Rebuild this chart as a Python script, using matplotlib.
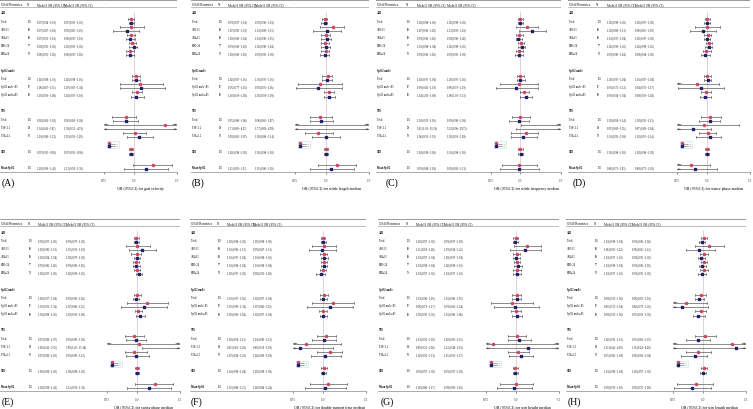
import matplotlib
matplotlib.use("Agg")
import matplotlib.pyplot as plt
from matplotlib.lines import Line2D
from matplotlib.ticker import NullLocator

plt.rcParams['font.family'] = ['Liberation Serif', 'DejaVu Serif']

# ---------------- data ----------------
row_labels = ["Total", "AHI<15", "AHI≥15", "BMI<24", "BMI≥24",
              "Total", "SpO2 nadir<85", "SpO2 nadir≥85",
              "Total", "T90<1.2", "T90≥1.2",
              "ODI", "Mean SpO2"]
group_labels = ["AHI", "SpO2 nadir", "T90"]
n_values = [136, 68, 68, 77, 59, 136, 67, 69, 136, 98, 38, 136, 136]

xlabels = ["OR (95%CI) for gait velocity",
           "OR (95%CI) for stride length median",
           "OR (95%CI) for stride frequency median",
           "OR (95%CI) for stance phase median",
           "OR (95%CI) for swing phase median",
           "OR (95%CI) for double support time median",
           "OR (95%CI) for step height median",
           "OR (95%CI) for step length median"]
panel_letters = ["(A)", "(B)", "(C)", "(D)", "(E)", "(F)", "(G)", "(H)"]
x_ticks = [0.75, 1.0, 1.5]
x_tick_labels = ["0.75", "1.0", "1.5"]

# (OR, lower, upper) per row
A_model1 = [(0.97,0.94,1.00),(0.97,0.87,1.10),(0.97,0.93,1.01),(0.98,0.95,1.02),(0.96,0.92,1.00),
            (1.02,0.98,1.06),(1.06,0.87,1.31),(1.03,0.98,1.08),
            (0.92,0.81,1.02),(1.34,0.49,3.67),(1.01,0.90,1.12),(0.97,0.95,0.99),(1.20,0.99,1.43)]
A_model2 = [(0.97,0.95,1.00),(0.93,0.82,1.05),(0.96,0.92,1.01),(1.00,0.95,1.03),(0.96,0.92,1.00),
            (1.02,0.98,1.06),(1.07,0.87,1.34),(1.02,0.97,1.10),
            (0.92,0.82,1.04),(1.58,0.52,4.79),(1.05,0.93,1.20),(0.97,0.95,0.99),(1.12,0.91,1.38)]
B_model1 = [(0.99,0.97,1.01),(1.07,0.95,1.19),(1.00,0.96,1.04),(0.99,0.96,1.03),(1.00,0.96,1.03),
            (1.02,0.97,1.06),(0.95,0.77,1.16),(1.03,0.98,1.08),
            (0.95,0.86,1.06),(1.73,0.69,4.33),(0.93,0.82,1.07),(1.00,0.98,1.02),(1.11,0.93,1.33)]
B_model2 = [(0.99,0.96,1.01),(1.01,0.89,1.15),(1.01,0.96,1.05),(1.00,0.96,1.04),(0.99,0.95,1.03),
            (1.01,0.97,1.06),(0.93,0.76,1.16),(1.03,0.98,1.09),
            (0.96,0.86,1.07),(1.77,0.68,4.59),(1.00,0.88,1.14),(1.00,0.98,1.02),(1.05,0.86,1.30)]
C_model1 = [(1.00,0.98,1.03),(1.07,0.96,1.20),(0.99,0.96,1.03),(1.01,0.98,1.04),(0.99,0.96,1.03),
            (1.00,0.97,1.04),(0.99,0.82,1.19),(1.04,1.00,1.09),
            (1.00,0.92,1.10),(5.61,1.01,31.18),(1.06,0.91,1.19),(1.00,0.98,1.03),(0.99,0.84,1.18)]
C_model2 = [(1.00,0.98,1.03),(1.13,0.99,1.29),(0.98,0.96,1.02),(1.02,0.98,1.05),(0.99,0.95,1.03),
            (1.00,0.97,1.05),(0.96,0.79,1.19),(1.06,1.00,1.13),
            (0.99,0.90,1.09),(5.33,0.96,29.73),(1.03,0.91,1.18),(1.01,0.98,1.03),(0.99,0.82,1.21)]
D_model1 = [(1.00,0.98,1.03),(1.00,0.89,1.13),(1.01,0.97,1.04),(1.02,0.99,1.05),(0.99,0.96,1.04),
            (1.00,0.97,1.04),(0.91,0.72,1.12),(0.99,0.94,1.04),
            (1.03,0.94,1.14),(0.97,0.69,1.35),(1.01,0.92,1.09),(1.00,0.98,1.02),(0.86,0.73,1.03)]
D_model2 = [(1.00,0.97,1.03),(0.96,0.85,1.09),(1.00,0.97,1.03),(1.02,0.98,1.05),(0.98,0.94,1.03),
            (1.01,0.97,1.04),(0.94,0.76,1.17),(0.98,0.93,1.04),
            (1.03,0.92,1.13),(0.87,0.68,1.04),(1.03,0.90,1.14),(1.00,0.98,1.02),(0.89,0.72,1.10)]
E_model1 = [(0.99,0.97,1.02),(1.00,0.90,1.13),(1.00,0.94,1.04),(0.99,0.96,1.02),(1.00,0.97,1.03),
            (1.00,0.97,1.04),(1.10,0.91,1.34),(1.01,0.98,1.05),
            (0.97,0.89,1.07),(1.02,0.41,2.55),(0.97,0.89,1.10),(1.00,0.98,1.02),(1.18,0.98,1.41)]
E_model2 = [(0.99,0.97,1.02),(1.05,0.92,1.19),(1.00,0.97,1.03),(0.99,0.96,1.03),(1.02,0.99,1.05),
            (0.99,0.96,1.02),(1.07,0.86,1.32),(1.03,0.99,1.08),
            (0.99,0.90,1.09),(3.99,1.05,15.14),(0.99,0.90,1.12),(1.00,0.98,1.02),(1.12,0.91,1.38)]
F_model1 = [(1.00,0.98,1.02),(1.01,0.90,1.13),(1.01,0.97,1.04),(1.01,0.98,1.04),(1.00,0.97,1.03),
            (1.01,0.97,1.05),(1.10,0.90,1.34),(1.00,0.96,1.04),
            (1.03,0.94,1.13),(0.85,0.61,1.18),(1.07,0.94,1.20),(1.01,0.98,1.04),(1.05,0.88,1.25)]
F_model2 = [(1.00,0.98,1.03),(0.99,0.87,1.13),(1.01,0.98,1.05),(1.01,0.98,1.04),(0.98,0.93,1.02),
            (1.00,0.97,1.04),(1.07,0.86,1.33),(1.00,0.97,1.04),
            (1.01,0.90,1.13),(0.80,0.58,1.10),(1.02,0.89,1.18),(1.00,0.98,1.03),(1.02,0.84,1.24)]
G_model1 = [(1.00,0.97,1.02),(1.11,0.98,1.26),(1.01,0.97,1.04),(1.01,0.98,1.04),(1.01,0.97,1.05),
            (1.01,0.96,1.05),(0.96,0.79,1.17),(1.00,0.95,1.05),
            (1.01,0.92,1.10),(0.80,0.31,2.02),(1.02,0.92,1.13),(0.99,0.97,1.02),(1.00,0.86,1.17)]
G_model2 = [(0.99,0.97,1.02),(1.09,0.94,1.26),(1.00,0.97,1.04),(1.02,0.98,1.06),(1.01,0.97,1.05),
            (1.01,0.96,1.05),(0.99,0.81,1.24),(1.01,0.96,1.06),
            (1.03,0.92,1.15),(1.12,0.48,2.61),(1.05,0.93,1.17),(0.99,0.97,1.02),(0.98,0.83,1.16)]
H_model1 = [(1.01,0.98,1.04),(1.06,0.92,1.22),(1.01,0.97,1.05),(1.01,0.98,1.04),(1.01,0.97,1.05),
            (0.98,0.92,1.03),(0.85,0.72,1.04),(0.98,0.92,1.03),
            (1.02,0.92,1.13),(1.31,0.42,4.10),(0.95,0.85,1.08),(1.01,0.98,1.04),(0.93,0.78,1.10)]
H_model2 = [(0.99,0.96,1.02),(0.96,0.85,1.12),(0.98,0.95,1.02),(0.99,0.96,1.03),(0.99,0.95,1.03),
            (0.96,0.92,1.01),(0.82,0.70,1.05),(0.95,0.91,1.02),
            (0.95,0.85,1.07),(1.36,0.44,4.20),(0.92,0.81,1.04),(1.00,0.97,1.03),(0.90,0.76,1.08)]

model1_sets = [A_model1, B_model1, C_model1, D_model1, E_model1, F_model1, G_model1, H_model1]
model2_sets = [A_model2, B_model2, C_model2, D_model2, E_model2, F_model2, G_model2, H_model2]

# ---------------- layout (pixels) ----------------
W, H = 753, 410
# (panel left, panel top, forest left, forest right, letter x)
layout = [(0, 0, 104, 177, 2), (191, 0, 295, 369, 192), (376, 0, 491, 561, 386), (568, 0, 677, 750, 573),
          (0, 219, 107, 180, 2), (190, 219, 293, 366, 191), (378, 219, 486, 559, 381), (566, 219, 673, 746, 568)]
PH = 173  # height of table/forest block
row_y = [22, 30, 38, 46, 54, 79, 87, 95.5, 120, 128, 136, 152.5, 168]
group_y = [13.5, 71, 111]
bold_rows = {11, 12}

RED = '#D2435F'
NAVY = '#1F1F6B'
LINE = '#4a4a4a'
GRID = '#8a8a8a'
REF = '#D9BFCB'

fig = plt.figure(figsize=(W / 100, H / 100), dpi=100)


def px_axes(left, top, width, height):
    return fig.add_axes([left / W, 1 - (top + height) / H, width / W, height / H])


def fmt(t):
    return f"{t[0]:.2f} ({t[1]:.2f} - {t[2]:.2f})"


def draw_ci(ax, y, t, color, marker, ms):
    est, lo, hi = t
    xmin, xmax = ax.get_xlim()
    l, h = max(lo, xmin), min(hi, xmax)
    ax.plot([l, h], [y, y], color=LINE, lw=0.45, solid_capstyle='butt', zorder=2)
    cap = 1.0
    if lo >= xmin:
        ax.plot([lo, lo], [y - cap, y + cap], color=LINE, lw=0.45, zorder=2)
    else:
        ax.annotate('', xy=(xmin, y), xytext=(xmin * 1.04, y), annotation_clip=False,
                    arrowprops=dict(arrowstyle='->', color=LINE, lw=0.45, shrinkA=0, shrinkB=0,
                                    mutation_scale=2.5))
    if hi <= xmax:
        ax.plot([hi, hi], [y - cap, y + cap], color=LINE, lw=0.45, zorder=2)
    else:
        ax.annotate('', xy=(xmax, y), xytext=(xmax / 1.04, y), annotation_clip=False,
                    arrowprops=dict(arrowstyle='->', color=LINE, lw=0.45, shrinkA=0, shrinkB=0,
                                    mutation_scale=2.5))
    if xmin <= est <= xmax:
        ax.plot(est, y, marker=marker, color=color, ms=ms, mec=color, ls='', zorder=3)


for p in range(8):
    x0, top, f0, f1, lx = layout[p]
    m1, m2 = model1_sets[p], model2_sets[p]
    s = (f0 - x0) / 104.0

    # --- table part ---
    axt = px_axes(x0, top, f0 - x0, PH)
    axt.set_xlim(0, f0 - x0)
    axt.set_ylim(PH, 0)
    axt.set_xticks([]); axt.set_yticks([])
    for sp in ['top', 'left', 'right']:
        axt.spines[sp].set_visible(False)
    axt.spines['bottom'].set_color(GRID)
    axt.spines['bottom'].set_linewidth(0.5)
    axt.patch.set_alpha(0)

    # --- forest part ---
    axf = px_axes(f0, top, f1 - f0, PH)
    axf.set_xscale('log')
    axf.set_xlim(0.75, 1.5)
    axf.set_ylim(PH, 0)
    axf.set_yticks([])
    axf.set_xticks(x_ticks)
    axf.set_xticklabels(x_tick_labels)
    axf.xaxis.set_minor_locator(NullLocator())
    axf.tick_params(axis='x', length=1.5, width=0.4, labelsize=2.5, pad=2.8, colors='#333333')
    for sp in ['top', 'left', 'right']:
        axf.spines[sp].set_visible(False)
    axf.spines['bottom'].set_color(GRID)
    axf.spines['bottom'].set_linewidth(0.5)
    axf.patch.set_alpha(0)
    axf.set_xlabel(xlabels[p], fontsize=2.9, labelpad=2.6)

    for a in (axt, axf):
        a.axhline(1.2, color=GRID, lw=0.6)
        a.axhline(8.2, color=GRID, lw=0.4)

    # header
    hy = 4.7
    axt.text(1, hy, "OSAHS metrics", fontsize=2.3, va='center')
    axt.text(27 * s, hy, "N", fontsize=2.3, va='center')
    axt.text(37 * s, hy, "Model1 OR (95% CI)", fontsize=2.3, va='center')
    axt.text(64 * s, hy, "Model2 OR (95% CI)", fontsize=2.3, va='center')

    for g, gy in zip(group_labels, group_y):
        axt.text(1, gy, g, fontsize=2.0, va='center', fontweight='bold')

    for i, y in enumerate(row_y):
        bold = 'bold' if i in bold_rows else 'normal'
        axt.text(1, y, row_labels[i], fontsize=1.9, va='center', fontweight=bold)
        axt.text(28 * s, y, str(n_values[i]), fontsize=1.9, va='center')
        axt.text(37 * s, y, fmt(m1[i]), fontsize=1.9, va='center')
        axt.text(64 * s, y, fmt(m2[i]), fontsize=1.9, va='center')
        draw_ci(axf, y - 2.3, m1[i], RED, 'o', 1.5)
        draw_ci(axf, y + 2.3, m2[i], NAVY, 's', 2.0)

    axf.vlines(1.0, 12, PH, color=REF, lw=0.5, zorder=1)

    handles = [Line2D([], [], marker='o', color=RED, ls='', ms=1.5),
               Line2D([], [], marker='s', color=NAVY, ls='', ms=1.8)]
    leg = axf.legend(handles, ['Model 1', 'Model 2'], loc='upper left',
                     bbox_to_anchor=(3.0 / (f1 - f0), (PH - 142.5) / PH),
                     fontsize=1.6, frameon=True, fancybox=False, edgecolor='#A8D8E8',
                     handlelength=0.6, handletextpad=0.4, borderpad=0.5, labelspacing=0.35,
                     borderaxespad=0)
    leg.get_frame().set_linewidth(0.4)

    # panel letter
    fig.text(lx / W, 1 - (top + 183) / H, panel_letters[p], fontsize=7, va='center', ha='left')

fig.savefig("out.png", dpi=100)
